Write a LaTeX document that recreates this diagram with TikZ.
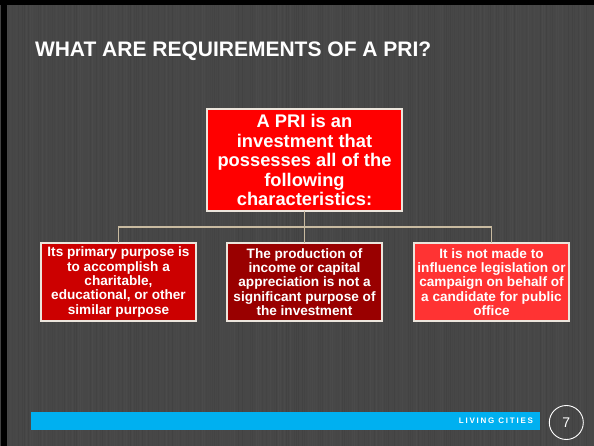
\documentclass[tikz,border=0pt]{standalone}
\usepackage{fontspec}
\setmainfont{Liberation Sans}
\begin{document}
\begin{tikzpicture}[x=1pt,y=-1pt,
  every node/.style={inner sep=0pt, outer sep=0pt},
  box/.style={draw=boxline, line width=1.2pt, text=white, align=center,
    font=\bfseries},
  headbox/.style={box, fill=redA, minimum width=195pt, minimum height=102pt,
    font=\fontsize{18.3}{19.5}\selectfont\bfseries},
  childbox/.style={box, minimum width=155pt, minimum height=78pt,
    font=\fontsize{13.6}{14.3}\selectfont\bfseries},
  conn/.style={draw=connline, line width=1.5pt},
]
\definecolor{bg}{RGB}{71,71,71}
\definecolor{redA}{RGB}{255,0,0}
\definecolor{redB}{RGB}{204,0,0}
\definecolor{redC}{RGB}{153,0,0}
\definecolor{redD}{RGB}{255,51,51}
\definecolor{boxline}{RGB}{236,229,220}
\definecolor{connline}{RGB}{200,186,160}
\definecolor{barblue}{RGB}{0,176,240}

% slide background with fine vertical texture
\useasboundingbox (0,0) rectangle (594,446);
\fill[bg] (0,0) rectangle (594,446);
\pgfmathsetseed{11}
\foreach \i in {0,...,296}{
  \pgfmathsetmacro\v{int(66+random(0,9))}
  \fill[color={rgb,255:red,\v;green,\v;blue,\v}] (2*\i,0) rectangle (2*\i+1,446);
}
% dark frame edges
\fill[black] (0,0) rectangle (594,5);
\fill[black] (0.5,0) rectangle (7,446);

% title
\node[anchor=base west, text=white, font=\fontsize{21}{24}\selectfont\bfseries]
  (title) at (35,57) {WHAT ARE REQUIREMENTS OF A PRI?};

% hierarchy
\node[headbox] (top) at (304.5,160)
  {A PRI is an\\investment that\\possesses all of the\\following\\characteristics:};
\node[childbox, fill=redB] (left) at (118.5,282)
  {Its primary purpose is\\to accomplish a\\charitable,\\educational, or other\\similar purpose};
\node[childbox, fill=redC] (mid) at (304.5,282)
  {The production of\\income or capital\\appreciation is not a\\significant purpose of\\the investment};
\node[childbox, fill=redD] (right) at (491.5,282)
  {It is not made to\\influence legislation or\\campaign on behalf of\\a candidate for public\\office};

\draw[conn] (top.south) -- ++(0,16) -| (left.north);
\draw[conn] (top.south) -- ++(0,16) -| (right.north);
\draw[conn] (top.south) -- (mid.north);

% footer
\node[fill=barblue, minimum width=509pt, minimum height=18pt] (bar) at (285.5,421) {};
\node[anchor=east, text=white,
  font=\fontsize{8}{9}\selectfont\bfseries\addfontfeature{LetterSpace=22}]
  (brand) at ([xshift=-7pt]bar.east) {LIVING CITIES};
\node[circle, draw=white, line width=0.9pt, minimum size=34pt, text=white,
  font=\fontsize{14}{16}\selectfont] (page) at (566.3,422.5) {7};
\end{tikzpicture}
\end{document}
